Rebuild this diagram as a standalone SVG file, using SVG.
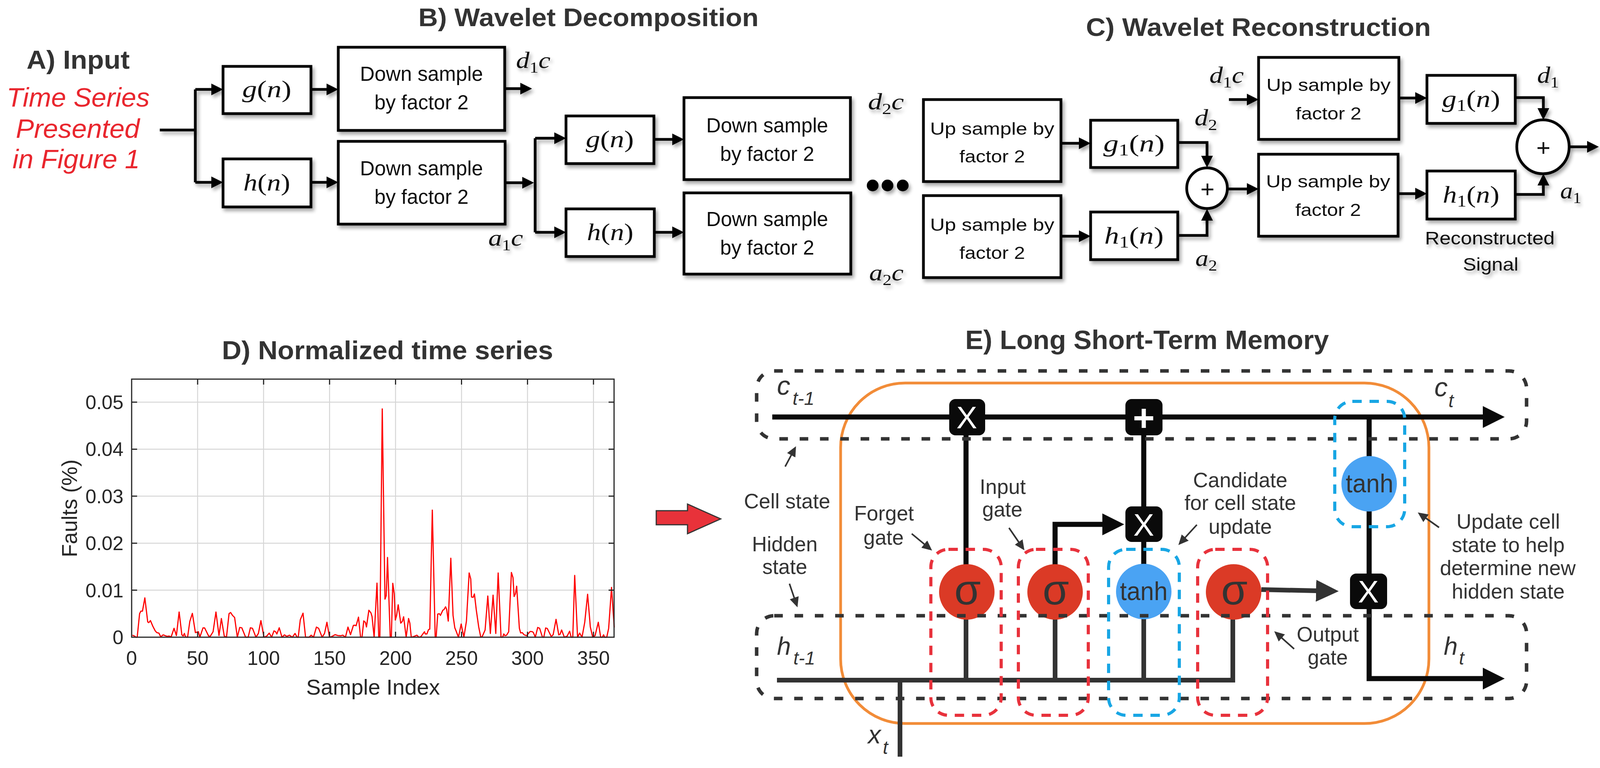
<svg xmlns="http://www.w3.org/2000/svg" width="4114" height="1967" viewBox="0 0 4114 1967">
<defs>
<style>
.ttl{font-family:'Liberation Sans',Arial,sans-serif;font-weight:bold;fill:#333;}
.sans{font-family:'Liberation Sans',Arial,sans-serif;fill:#111;}
.lab{font-family:'Liberation Sans',Arial,sans-serif;fill:#333;font-size:53px;text-anchor:middle;}
.var{font-family:'Liberation Sans',Arial,sans-serif;fill:#333;font-style:italic;}
.m{font-family:'Liberation Serif','Times New Roman',serif;fill:#111;}
.i{font-style:italic;}
.box{fill:#fff;stroke:#000;stroke-width:7;}
.c{fill:none;stroke:#000;stroke-width:7;}
.ca{fill:none;stroke:#000;stroke-width:7;marker-end:url(#ah);}
.red{font-family:'Liberation Sans',Arial,sans-serif;font-style:italic;fill:#e9262e;font-size:68px;text-anchor:middle;}
.tick{font-family:'Liberation Sans',Arial,sans-serif;fill:#262626;}
.grid{stroke:#d6d6d6;stroke-width:2.5;fill:none;}
.ax{stroke:#262626;stroke-width:3;fill:none;}
.k{fill:none;stroke:#0a0a0a;stroke-width:13;}
.g{fill:none;stroke:#333;stroke-width:12;}
.gdash{fill:none;stroke:#333;stroke-width:9;stroke-dasharray:22 30;}
.rdash{fill:none;stroke:#e8323c;stroke-width:8;stroke-dasharray:24 20;}
.bdash{fill:none;stroke:#18a6e4;stroke-width:8;stroke-dasharray:24 20;}
.sig{fill:#db3a26;}
.tanh{fill:#4aa3f3;}
.op{fill:#0a0a0a;}
.opt{font-family:'Liberation Sans',Arial,sans-serif;fill:#fff;text-anchor:middle;}
.ann{fill:none;stroke:#333;stroke-width:4;marker-end:url(#ahS);}
</style>
<marker id="ah" markerUnits="userSpaceOnUse" markerWidth="30" markerHeight="30" refX="20" refY="15" orient="auto"><path d="M0,0 L30,15 L0,30 z" fill="#000"/></marker>
<marker id="ahK" markerUnits="userSpaceOnUse" markerWidth="56" markerHeight="56" refX="41" refY="28" orient="auto"><path d="M0,0 L56,28 L0,56 z" fill="#0a0a0a"/></marker>
<marker id="ahG" markerUnits="userSpaceOnUse" markerWidth="58" markerHeight="56" refX="43" refY="28" orient="auto"><path d="M0,0 L58,28 L0,56 z" fill="#333"/></marker>
<marker id="ahS" markerUnits="userSpaceOnUse" markerWidth="26" markerHeight="24" refX="18" refY="12" orient="auto"><path d="M0,0 L26,12 L0,24 z" fill="#333"/></marker>
<filter id="sh" filterUnits="userSpaceOnUse" x="0" y="0" width="4114" height="1967">
<feGaussianBlur in="SourceAlpha" stdDeviation="5"/>
<feOffset dx="5" dy="7"/>
<feComponentTransfer><feFuncA type="linear" slope="0.35"/></feComponentTransfer>
<feMerge><feMergeNode/><feMergeNode in="SourceGraphic"/></feMerge>
</filter>
</defs>
<rect width="4114" height="1967" fill="#fff"/>

<!-- Titles -->
<text class="ttl" x="200" y="176" font-size="66" text-anchor="middle" textLength="264" lengthAdjust="spacingAndGlyphs">A) Input</text>
<text class="ttl" x="1071" y="67" font-size="65" textLength="871" lengthAdjust="spacingAndGlyphs">B) Wavelet Decomposition</text>
<text class="ttl" x="2780" y="92" font-size="64" textLength="883" lengthAdjust="spacingAndGlyphs">C) Wavelet Reconstruction</text>
<text class="ttl" x="568" y="920" font-size="66" textLength="848" lengthAdjust="spacingAndGlyphs">D) Normalized time series</text>
<text class="ttl" x="2471" y="894" font-size="68" textLength="931" lengthAdjust="spacingAndGlyphs">E) Long Short-Term Memory</text>

<!-- A) input text -->
<g id="input">
<text class="red" x="200" y="273" textLength="366" lengthAdjust="spacingAndGlyphs">Time Series</text>
<text class="red" x="199" y="353" textLength="317" lengthAdjust="spacingAndGlyphs">Presented</text>
<text class="red" x="195" y="431" textLength="326" lengthAdjust="spacingAndGlyphs">in Figure 1</text>
</g>

<!-- B/C connectors -->
<g id="connectors-bc" filter="url(#sh)">
<path class="c" d="M409,333 H500"/>
<path class="c" d="M500,229 V467"/>
<path class="ca" d="M500,229 H561"/>
<path class="ca" d="M500,467 H561"/>
<path class="ca" d="M796,229 H856"/>
<path class="ca" d="M796,467 H856"/>
<path class="ca" d="M1292,227 H1352"/>
<path class="ca" d="M1293,468 H1357"/>
<path class="c" d="M1370,354 V595"/>
<path class="ca" d="M1370,354 H1439"/>
<path class="ca" d="M1370,595 H1439"/>
<path class="ca" d="M1674,357 H1741"/>
<path class="ca" d="M1675,595 H1741"/>
<path class="ca" d="M2716,367 H2782"/>
<path class="ca" d="M2716,605 H2782"/>
<path class="ca" d="M3015,365 H3090 V419"/>
<path class="ca" d="M3015,603 H3090 V545"/>
<path class="ca" d="M3142,484 H3212"/>
<path class="ca" d="M3146,255 H3212"/>
<path class="ca" d="M3581,251 H3643"/>
<path class="ca" d="M3579,496 H3643"/>
<path class="ca" d="M3879,250 H3951 V297"/>
<path class="ca" d="M3879,498 H3951 V455"/>
<path class="ca" d="M4017,376 H4083"/>
</g>

<!-- B nodes -->
<g filter="url(#sh)">
<g id="g-n-1"><rect class="box" x="571" y="170" width="225" height="121"/>
<text class="m" x="683" y="249" font-size="62" text-anchor="middle" textLength="126" lengthAdjust="spacingAndGlyphs"><tspan class="i">g</tspan>(<tspan class="i">n</tspan>)</text></g>
<g id="h-n-1"><rect class="box" x="571" y="407" width="225" height="123"/>
<text class="m" x="683" y="488" font-size="62" text-anchor="middle" textLength="120" lengthAdjust="spacingAndGlyphs"><tspan class="i">h</tspan>(<tspan class="i">n</tspan>)</text></g>
<g id="down-1"><rect class="box" x="866" y="121" width="426" height="213"/>
<text class="sans" x="1079" y="207" font-size="51" text-anchor="middle" textLength="315" lengthAdjust="spacingAndGlyphs">Down sample</text>
<text class="sans" x="1079" y="280" font-size="51" text-anchor="middle" textLength="241" lengthAdjust="spacingAndGlyphs">by factor 2</text></g>
<g id="down-2"><rect class="box" x="866" y="362" width="427" height="212"/>
<text class="sans" x="1079" y="449" font-size="51" text-anchor="middle" textLength="315" lengthAdjust="spacingAndGlyphs">Down sample</text>
<text class="sans" x="1079" y="522" font-size="51" text-anchor="middle" textLength="241" lengthAdjust="spacingAndGlyphs">by factor 2</text></g>
<g id="g-n-2"><rect class="box" x="1449" y="297" width="225" height="122"/>
<text class="m" x="1561" y="377" font-size="62" text-anchor="middle" textLength="123" lengthAdjust="spacingAndGlyphs"><tspan class="i">g</tspan>(<tspan class="i">n</tspan>)</text></g>
<g id="h-n-2"><rect class="box" x="1449" y="535" width="226" height="122"/>
<text class="m" x="1562" y="615" font-size="62" text-anchor="middle" textLength="119" lengthAdjust="spacingAndGlyphs"><tspan class="i">h</tspan>(<tspan class="i">n</tspan>)</text></g>
<g id="down-3"><rect class="box" x="1751" y="250" width="426" height="210"/>
<text class="sans" x="1964" y="339" font-size="51" text-anchor="middle" textLength="312" lengthAdjust="spacingAndGlyphs">Down sample</text>
<text class="sans" x="1964" y="412" font-size="51" text-anchor="middle" textLength="241" lengthAdjust="spacingAndGlyphs">by factor 2</text></g>
<g id="down-4"><rect class="box" x="1751" y="494" width="427" height="208"/>
<text class="sans" x="1964" y="579" font-size="51" text-anchor="middle" textLength="312" lengthAdjust="spacingAndGlyphs">Down sample</text>
<text class="sans" x="1964" y="652" font-size="51" text-anchor="middle" textLength="241" lengthAdjust="spacingAndGlyphs">by factor 2</text></g>
<g id="ellipsis"><circle cx="2234" cy="475" r="15" fill="#000"/><circle cx="2272" cy="475" r="15" fill="#000"/><circle cx="2311" cy="475" r="15" fill="#000"/></g>
</g>

<!-- C nodes -->
<g filter="url(#sh)">
<g id="up-1"><rect class="box" x="2364" y="255" width="352" height="210"/>
<text class="sans" x="2540" y="345" font-size="45" text-anchor="middle" textLength="318" lengthAdjust="spacingAndGlyphs">Up sample by</text>
<text class="sans" x="2540" y="416" font-size="45" text-anchor="middle" textLength="168" lengthAdjust="spacingAndGlyphs">factor 2</text></g>
<g id="up-2"><rect class="box" x="2364" y="501" width="352" height="210"/>
<text class="sans" x="2540" y="591" font-size="45" text-anchor="middle" textLength="318" lengthAdjust="spacingAndGlyphs">Up sample by</text>
<text class="sans" x="2540" y="663" font-size="45" text-anchor="middle" textLength="168" lengthAdjust="spacingAndGlyphs">factor 2</text></g>
<g id="g1-n-1"><rect class="box" x="2792" y="308" width="223" height="121"/>
<text class="m" x="2903" y="388" font-size="62" text-anchor="middle" textLength="157" lengthAdjust="spacingAndGlyphs"><tspan class="i">g</tspan><tspan font-size="42" dy="10">1</tspan><tspan dy="-10">(</tspan><tspan class="i">n</tspan>)</text></g>
<g id="h1-n-1"><rect class="box" x="2792" y="543" width="223" height="122"/>
<text class="m" x="2903" y="624" font-size="62" text-anchor="middle" textLength="152" lengthAdjust="spacingAndGlyphs"><tspan class="i">h</tspan><tspan font-size="42" dy="10">1</tspan><tspan dy="-10">(</tspan><tspan class="i">n</tspan>)</text></g>
<g id="sum-1"><circle cx="3090" cy="482" r="52" fill="#fff" stroke="#000" stroke-width="7"/>
<text class="sans" x="3091" y="505" font-size="62" text-anchor="middle">+</text></g>
<g id="up-3"><rect class="box" x="3222" y="147" width="359" height="210"/>
<text class="sans" x="3401" y="233" font-size="45" text-anchor="middle" textLength="318" lengthAdjust="spacingAndGlyphs">Up sample by</text>
<text class="sans" x="3401" y="306" font-size="45" text-anchor="middle" textLength="168" lengthAdjust="spacingAndGlyphs">factor 2</text></g>
<g id="up-4"><rect class="box" x="3222" y="395" width="357" height="210"/>
<text class="sans" x="3400" y="480" font-size="45" text-anchor="middle" textLength="318" lengthAdjust="spacingAndGlyphs">Up sample by</text>
<text class="sans" x="3400" y="553" font-size="45" text-anchor="middle" textLength="168" lengthAdjust="spacingAndGlyphs">factor 2</text></g>
<g id="g1-n-2"><rect class="box" x="3653" y="193" width="226" height="123"/>
<text class="m" x="3766" y="274" font-size="62" text-anchor="middle" textLength="149" lengthAdjust="spacingAndGlyphs"><tspan class="i">g</tspan><tspan font-size="42" dy="10">1</tspan><tspan dy="-10">(</tspan><tspan class="i">n</tspan>)</text></g>
<g id="h1-n-2"><rect class="box" x="3653" y="438" width="226" height="123"/>
<text class="m" x="3766" y="519" font-size="62" text-anchor="middle" textLength="145" lengthAdjust="spacingAndGlyphs"><tspan class="i">h</tspan><tspan font-size="42" dy="10">1</tspan><tspan dy="-10">(</tspan><tspan class="i">n</tspan>)</text></g>
<g id="sum-2"><ellipse cx="3950" cy="376" rx="67" ry="69" fill="#fff" stroke="#000" stroke-width="7"/>
<text class="sans" x="3951" y="399" font-size="62" text-anchor="middle">+</text></g>
<g id="reconstructed">
<text class="sans" x="3814" y="626" font-size="47" text-anchor="middle" textLength="332" lengthAdjust="spacingAndGlyphs">Reconstructed</text>
<text class="sans" x="3816" y="693" font-size="47" text-anchor="middle" textLength="142" lengthAdjust="spacingAndGlyphs">Signal</text></g>
</g>

<!-- signal labels -->
<g id="signal-labels" filter="url(#sh)">
<text class="m" x="1321" y="174" font-size="60" textLength="88" lengthAdjust="spacingAndGlyphs"><tspan class="i">d</tspan><tspan font-size="40" dy="12">1</tspan><tspan class="i" dy="-12">c</tspan></text>
<text class="m" x="1250" y="629" font-size="60" textLength="89" lengthAdjust="spacingAndGlyphs"><tspan class="i">a</tspan><tspan font-size="40" dy="12">1</tspan><tspan class="i" dy="-12">c</tspan></text>
<text class="m" x="2222" y="280" font-size="60" textLength="92" lengthAdjust="spacingAndGlyphs"><tspan class="i">d</tspan><tspan font-size="40" dy="12">2</tspan><tspan class="i" dy="-12">c</tspan></text>
<text class="m" x="2225" y="718" font-size="60" textLength="88" lengthAdjust="spacingAndGlyphs"><tspan class="i">a</tspan><tspan font-size="40" dy="12">2</tspan><tspan class="i" dy="-12">c</tspan></text>
<text class="m" x="3058" y="321" font-size="60" textLength="58" lengthAdjust="spacingAndGlyphs"><tspan class="i">d</tspan><tspan font-size="40" dy="12">2</tspan></text>
<text class="m" x="3060" y="681" font-size="60" textLength="56" lengthAdjust="spacingAndGlyphs"><tspan class="i">a</tspan><tspan font-size="40" dy="12">2</tspan></text>
<text class="m" x="3096" y="212" font-size="60" textLength="88" lengthAdjust="spacingAndGlyphs"><tspan class="i">d</tspan><tspan font-size="40" dy="12">1</tspan><tspan class="i" dy="-12">c</tspan></text>
<text class="m" x="3935" y="212" font-size="60" textLength="56" lengthAdjust="spacingAndGlyphs"><tspan class="i">d</tspan><tspan font-size="40" dy="12">1</tspan></text>
<text class="m" x="3994" y="508" font-size="60" textLength="54" lengthAdjust="spacingAndGlyphs"><tspan class="i">a</tspan><tspan font-size="40" dy="12">1</tspan></text>
</g>

<!-- D) chart -->
<g id="chart">
<g class="grid">
<path d="M505.9,971 V1632 M674.8,971 V1632 M843.7,971 V1632 M1012.6,971 V1632 M1181.5,971 V1632 M1350.4,971 V1632 M1519.3,971 V1632"/>
<path d="M337,1030 H1572 M337,1150.4 H1572 M337,1270.8 H1572 M337,1391.2 H1572 M337,1511.6 H1572"/>
</g>
<g transform="translate(330,960) scale(0.408163,0.440141)">
<polyline fill="none" stroke="#ff0000" stroke-width="3" vector-effect="non-scaling-stroke" stroke-linejoin="round" points="22,1515 35,1520 45,1527 52,1527 67,1390 75,1375 85,1375 100,1298 118,1438 125,1442 135,1430 150,1463 165,1490 175,1500 188,1503 200,1525 215,1513 228,1518 240,1522 252,1520 265,1525 283,1475 298,1517 315,1380 332,1513 340,1520 348,1505 355,1525 368,1527 382,1435 398,1388 417,1500 428,1497 436,1495 445,1527 465,1472 475,1473 500,1520 510,1522 528,1495 546,1380 565,1517 580,1418 598,1520 612,1527 628,1390 638,1383 650,1400 663,1412 680,1527 695,1470 708,1472 732,1527 748,1527 762,1472 775,1475 797,1527 812,1505 828,1430 847,1527 865,1520 880,1503 895,1527 910,1490 920,1495 928,1508 943,1472 960,1527 976,1513 990,1522 1007,1515 1025,1527 1042,1505 1055,1527 1062,1527 1075,1425 1092,1387 1108,1527 1130,1527 1143,1515 1158,1527 1176,1468 1190,1475 1212,1527 1227,1505 1242,1440 1258,1527 1275,1522 1293,1512 1310,1517 1330,1518 1342,1515 1358,1527 1374,1468 1390,1512 1408,1458 1418,1457 1425,1460 1440,1410 1453,1527 1462,1527 1473,1432 1483,1440 1490,1467 1505,1370 1518,1385 1525,1407 1538,1527"/>
</g>
<g transform="translate(950,960) scale(0.408163,0.440141)">
<polyline fill="none" stroke="#ff0000" stroke-width="3" vector-effect="non-scaling-stroke" stroke-linejoin="round" points="19,1527 37,1212 48,1527 55,1527 70,198 87,1305 95,1285 103,1063 120,1527 127,1527 136,1213 145,1273 152,1427 160,1400 170,1338 186,1445 196,1435 204,1408 220,1527 235,1418 243,1445 252,1527 270,1522 287,1515 300,1527 313,1523 323,1510 335,1495 340,1508 350,1508 360,1483 368,1480 384,787 402,1527 408,1527 418,1392 428,1390 435,1400 450,1370 458,1365 467,1350 474,1365 484,1433 500,1067 514,1400 525,1472 532,1488 548,1527 565,1450 582,1527 598,1433 615,1153 625,1188 630,1293 640,1295 648,1275 660,1370 675,1467 688,1527 697,1523 715,1485 732,1287 748,1505 765,1282 782,1505 797,1153 815,1527 825,1527 832,1508 840,1518 850,1515 863,1495 880,1150 890,1180 897,1290 905,1275 913,1230 930,1475 938,1502 948,1500 960,1513 975,1518 985,1507 998,1493 1012,1495 1018,1500 1030,1527 1045,1470 1057,1475 1075,1527 1083,1527 1095,1473 1105,1476 1130,1523 1142,1512 1160,1423 1177,1513 1185,1510 1195,1485 1212,1527 1230,1520 1245,1492 1255,1527 1265,1527 1277,1167 1295,1527 1308,1503 1323,1527 1340,1440 1358,1277 1375,1467 1390,1527 1405,1517 1425,1440 1440,1527 1450,1527 1458,1513 1465,1527 1478,1527 1490,1475 1508,1237 1525,1470"/>
</g>
<rect class="ax" x="337" y="971" width="1235" height="661"/>
<path class="ax" d="M505.9,1632 v-14 M674.8,1632 v-14 M843.7,1632 v-14 M1012.6,1632 v-14 M1181.5,1632 v-14 M1350.4,1632 v-14 M1519.3,1632 v-14 M505.9,971 v14 M674.8,971 v14 M843.7,971 v14 M1012.6,971 v14 M1181.5,971 v14 M1350.4,971 v14 M1519.3,971 v14 M337,1030 h14 M337,1150.4 h14 M337,1270.8 h14 M337,1391.2 h14 M337,1511.6 h14 M1572,1030 h-14 M1572,1150.4 h-14 M1572,1270.8 h-14 M1572,1391.2 h-14 M1572,1511.6 h-14"/>
<g class="tick" text-anchor="end" font-size="50">
<text x="316" y="1048">0.05</text>
<text x="316" y="1168">0.04</text>
<text x="316" y="1289">0.03</text>
<text x="316" y="1409">0.02</text>
<text x="316" y="1530">0.01</text>
<text x="316" y="1650">0</text>
</g>
<g class="tick" text-anchor="middle" font-size="50">
<text x="337" y="1703">0</text>
<text x="505.9" y="1703">50</text>
<text x="674.8" y="1703">100</text>
<text x="843.7" y="1703">150</text>
<text x="1012.6" y="1703">200</text>
<text x="1181.5" y="1703">250</text>
<text x="1350.4" y="1703">300</text>
<text x="1519.3" y="1703">350</text>
</g>
<text class="tick" x="955" y="1779" font-size="56" text-anchor="middle">Sample Index</text>
<text class="tick" transform="translate(197,1302) rotate(-90)" font-size="55" text-anchor="middle">Faults (%)</text>
</g>

<!-- red arrow -->
<g id="red-arrow"><polygon points="1680,1308 1760,1308 1760,1291 1845,1329 1760,1367 1760,1344 1680,1344" fill="#e8323a" stroke="#333" stroke-width="3"/></g>

<!-- E) LSTM -->
<g id="cell-boundary"><rect x="2152" y="981" width="1506" height="872" rx="165" fill="none" stroke="#f28c38" stroke-width="7"/></g>

<g id="connectors-lstm">
<path class="k" d="M1977,1068 H3837" marker-end="url(#ahK)"/>
<path class="k" d="M2473,1068 V1516"/>
<path class="g" d="M2473,1516 V1742"/>
<path class="k" d="M2701,1516 V1343 H2863" marker-end="url(#ahK)"/>
<path class="g" d="M2701,1516 V1742"/>
<path class="k" d="M2928,1068 V1516"/>
<path class="g" d="M2928,1516 V1742"/>
<path class="g" d="M1989,1742 H3156 V1516"/>
<path class="g" d="M3229,1510 L3412,1514" marker-end="url(#ahG)"/>
<path class="k" d="M3505,1068 V1514"/>
<path class="k" d="M3505,1514 V1738 H3837" marker-end="url(#ahK)"/>
<path class="g" d="M2304,1742 V1938" stroke-width="14"/>
</g>

<g id="forget-sigma"><circle class="sig" cx="2475" cy="1516" r="71"/><text x="2477" y="1548" font-family="'Liberation Sans',Arial,sans-serif" font-size="110" fill="#333" text-anchor="middle">σ</text></g>
<g id="input-sigma"><circle class="sig" cx="2701" cy="1516" r="71"/><text x="2703" y="1548" font-family="'Liberation Sans',Arial,sans-serif" font-size="110" fill="#333" text-anchor="middle">σ</text></g>
<g id="candidate-tanh"><circle class="tanh" cx="2928" cy="1515" r="71"/><text x="2928" y="1537" font-family="'Liberation Sans',Arial,sans-serif" font-size="66" fill="#333" text-anchor="middle" textLength="122" lengthAdjust="spacingAndGlyphs">tanh</text></g>
<g id="output-sigma"><circle class="sig" cx="3158" cy="1516" r="71"/><text x="3160" y="1548" font-family="'Liberation Sans',Arial,sans-serif" font-size="110" fill="#333" text-anchor="middle">σ</text></g>
<g id="output-tanh"><circle class="tanh" cx="3505" cy="1239" r="71"/><text x="3506" y="1261" font-family="'Liberation Sans',Arial,sans-serif" font-size="66" fill="#333" text-anchor="middle" textLength="122" lengthAdjust="spacingAndGlyphs">tanh</text></g>
<g id="forget-mult"><rect class="op" x="2430" y="1022" width="92" height="93" rx="16"/><text class="opt" x="2475" y="1097" font-size="80">X</text></g>
<g id="cell-add"><rect class="op" x="2881" y="1022" width="95" height="93" rx="16"/><text class="opt" x="2928" y="1104" font-size="96" font-weight="bold">+</text></g>
<g id="input-mult"><rect class="op" x="2881" y="1297" width="95" height="91" rx="16"/><text class="opt" x="2928" y="1372" font-size="80">X</text></g>
<g id="output-mult"><rect class="op" x="3456" y="1469" width="95" height="91" rx="16"/><text class="opt" x="3503" y="1543" font-size="80">X</text></g>

<g id="state-regions">
<rect class="gdash" x="1937" y="950" width="1971" height="174" rx="45"/>
<rect class="gdash" x="1937" y="1577" width="1971" height="212" rx="45"/>
</g>
<g id="gate-regions">
<rect class="rdash" x="2383" y="1407" width="180" height="425" rx="45"/>
<rect class="rdash" x="2607" y="1407" width="179" height="425" rx="45"/>
<rect class="bdash" x="2838" y="1407" width="181" height="425" rx="45"/>
<rect class="rdash" x="3066" y="1407" width="179" height="425" rx="45"/>
<rect class="bdash" x="3417" y="1028" width="179" height="321" rx="45"/>
</g>

<!-- annotation arrows -->
<g id="annotation-arrows">
<path class="ann" d="M2010,1195 L2034,1150"/>
<path class="ann" d="M2021,1495 L2039,1548"/>
<path class="ann" d="M2334,1367 L2380,1405"/>
<path class="ann" d="M2583,1352 L2618,1403"/>
<path class="ann" d="M3064,1344 L3022,1390"/>
<path class="ann" d="M3684,1351 L3636,1317"/>
<path class="ann" d="M3313,1662 L3268,1622"/>
</g>

<!-- LSTM labels -->
<g id="lstm-labels">
<text class="var" x="1989" y="1011" font-size="68">c</text><text class="var" x="2029" y="1037" font-size="48">t-1</text>
<text class="var" x="3672" y="1015" font-size="68">c</text><text class="var" x="3708" y="1043" font-size="48">t</text>
<text class="var" x="1989" y="1677" font-size="64">h</text><text class="var" x="2031" y="1702" font-size="48">t-1</text>
<text class="var" x="3696" y="1677" font-size="64">h</text><text class="var" x="3735" y="1702" font-size="48">t</text>
<text class="var" x="2222" y="1904" font-size="66">x</text><text class="var" x="2260" y="1931" font-size="48">t</text>
<text class="lab" x="2015" y="1302">Cell state</text>
<text class="lab" x="2009" y="1412">Hidden</text>
<text class="lab" x="2009" y="1470">state</text>
<text class="lab" x="2263" y="1333">Forget</text>
<text class="lab" x="2262" y="1395">gate</text>
<text class="lab" x="2567" y="1265">Input</text>
<text class="lab" x="2566" y="1323">gate</text>
<text class="lab" x="3175" y="1248">Candidate</text>
<text class="lab" x="3175" y="1306">for cell state</text>
<text class="lab" x="3175" y="1367">update</text>
<text class="lab" x="3861" y="1354">Update cell</text>
<text class="lab" x="3861" y="1414">state to help</text>
<text class="lab" x="3860" y="1473">determine new</text>
<text class="lab" x="3861" y="1533">hidden state</text>
<text class="lab" x="3399" y="1643">Output</text>
<text class="lab" x="3399" y="1702">gate</text>
</g>
</svg>
